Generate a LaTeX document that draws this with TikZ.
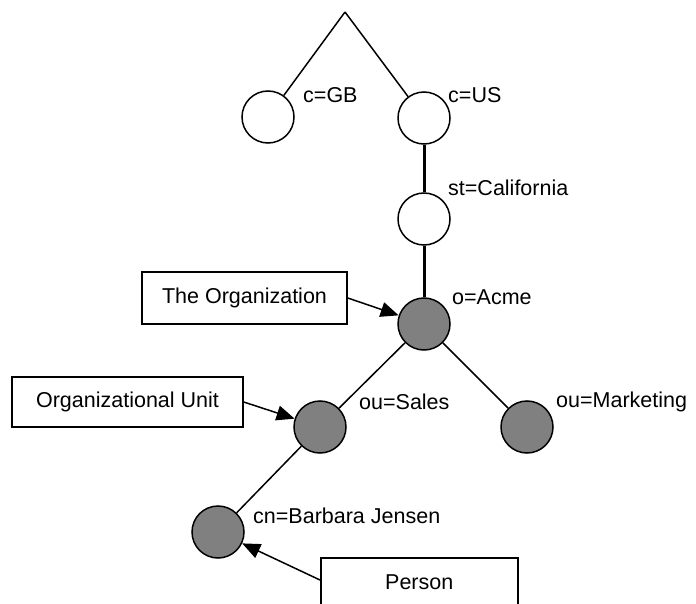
\documentclass[tikz,border=0pt]{standalone}
\usepackage{fontspec}
\setmainfont{Liberation Sans}
\usetikzlibrary{arrows.meta,calc}
\begin{document}
\begin{tikzpicture}[x=1pt,y=-1pt,
  font=\fontsize{21.5}{25}\selectfont,
  thin line/.style={line width=1.5pt},
  thick line/.style={line width=3pt},
  dnode/.style={circle,draw,line width=1.5pt,minimum size=52pt,inner sep=0pt},
  entry/.style={dnode,fill=white},
  ent/.style={dnode,fill=black!50},
  lab/.style={anchor=west,inner sep=0pt},
  box/.style={draw,line width=1.5pt,inner sep=0pt},
  arr/.style={line width=1.5pt,-{Triangle[length=18pt,width=15pt]}}]
\clip (0,0) rectangle (696,604);
\fill[white] (0,0) rectangle (696,604);
\coordinate (top) at (345,12);
\node[entry] (gb) at (268,117) {};
\node[entry] (us) at (424,118) {};
\node[entry] (ca) at (424,219) {};
\node[ent] (acme) at (424,324) {};
\node[ent] (sales) at (320,427) {};
\node[ent] (mkt) at (527,427) {};
\node[ent] (cn) at (218,532) {};
\node[lab] (lgb) at (303,95) {c=GB};
\node[lab] (lus) at (448,95) {c=US};
\node[lab] (lca) at (448,188) {st=California};
\node[lab] (lacme) at (452,297) {o=Acme};
\node[lab] (lsales) at (359,402) {ou=Sales};
\node[lab] (lmkt) at (556,402) {ou=Marketing};
\node[lab] (lcn) at (253,516) {cn=Barbara Jensen};
\node[box,minimum width=205pt,minimum height=52pt] (org) at (244.5,298) {The Organization};
\node[box,minimum width=231pt,minimum height=50pt] (ou) at (127.5,402) {Organizational Unit};
\node[box,anchor=north west,minimum width=197pt,inner ysep=10pt,text height=22pt,text depth=30pt] (person) at (320,557) {Person};
\coordinate (pa) at (320,580);
\draw[thin line] (top) -- (gb);
\draw[thin line] (top) -- (us);
\draw[thick line] (us) -- (ca);
\draw[thick line] (ca) -- (acme);
\draw[thin line] (acme) -- (sales);
\draw[thin line] (acme) -- (mkt);
\draw[thin line] (sales) -- (cn);
\draw[arr] (org.east) -- (acme);
\draw[arr] (ou.east) -- (sales);
\draw[arr] (pa) -- (cn);
\end{tikzpicture}
\end{document}
